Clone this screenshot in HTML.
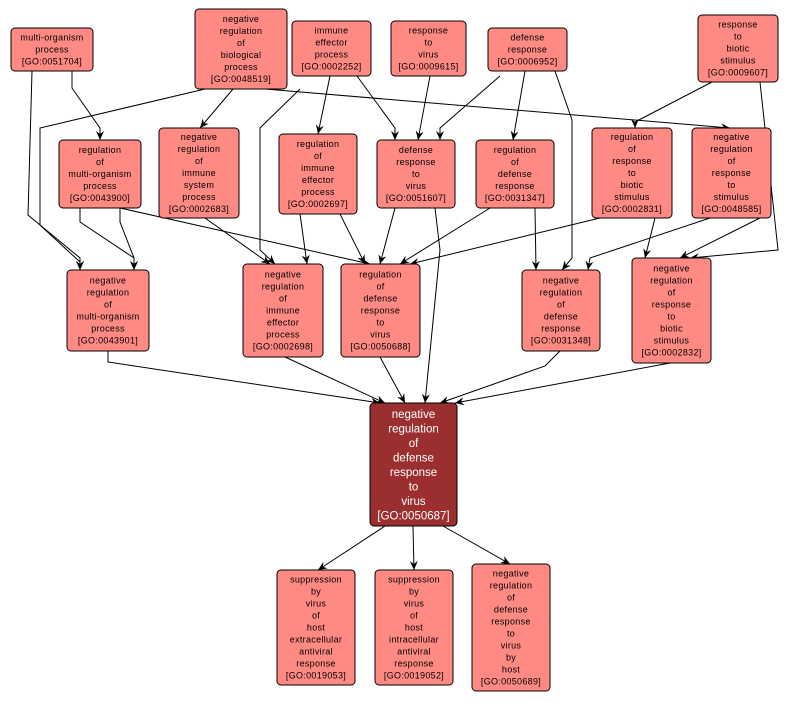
<!DOCTYPE html>
<html><head><meta charset="utf-8"><style>
html,body{margin:0;padding:0;background:#fff;}
svg{display:block}
text{font-family:"Liberation Sans",sans-serif;font-size:9px;text-anchor:middle;fill:#000;letter-spacing:0.3px}
.m text{font-size:11.5px;fill:#fff;letter-spacing:0}
rect{fill:#ff8a84;stroke:#000;stroke-width:1}
.m rect{fill:#9b2f2f}
polyline{fill:none;stroke:#000;stroke-width:1;marker-end:url(#a)}
</style></head><body>
<svg width="803" height="703" viewBox="0 0 803 703">
<defs><marker id="a" markerWidth="10" markerHeight="10" refX="9" refY="5" orient="auto" markerUnits="userSpaceOnUse"><path d="M0,1 L9,5 L0,9 L3,5 Z" fill="#000"/></marker></defs>
<g>
<polyline points="72,71 72,88 100,128 100,140"/>
<polyline points="32,71 28,215 80,258 80,270"/>
<polyline points="205,89 40,128 40,225 80,262 80,270"/>
<polyline points="80,208 80,222 134,258 134,270"/>
<polyline points="120,208 120,222 134,258 134,270"/>
<polyline points="233,89 200,128"/>
<polyline points="265,89 730,128"/>
<polyline points="300,89 260,128 260,250 275,264"/>
<polyline points="330,76 318,134"/>
<polyline points="357,76 395,128 395,140"/>
<polyline points="430,76 418,140"/>
<polyline points="500,76 440,128 440,140"/>
<polyline points="525,71 513,140"/>
<polyline points="555,71 572,120 572,258 562,270"/>
<polyline points="712,82 635,122 635,128"/>
<polyline points="760,82 778,250 690,258"/>
<polyline points="120,208 370,264"/>
<polyline points="205,218 270,264"/>
<polyline points="300,214 307,264"/>
<polyline points="340,214 365,264"/>
<polyline points="395,208 380,264"/>
<polyline points="435,208 440,250 425,403"/>
<polyline points="490,208 400,264"/>
<polyline points="535,208 536,270"/>
<polyline points="600,218 410,264"/>
<polyline points="655,218 645,258"/>
<polyline points="710,218 590,258 588,270"/>
<polyline points="760,218 680,258"/>
<polyline points="108,351 108,362 380,403"/>
<polyline points="285,357 385,403"/>
<polyline points="380,357 405,403"/>
<polyline points="560,351 545,366 440,403"/>
<polyline points="670,363 455,403"/>
<polyline points="385,526 318,570"/>
<polyline points="413,526 414,570"/>
<polyline points="443,526 510,564"/>
</g>

<g><rect x="11" y="28" width="82" height="43" rx="4"/>
<text x="52" y="40.5">multi-organism</text><text x="52" y="52.5">process</text><text x="52" y="64.5">[GO:0051704]</text></g>

<g><rect x="195" y="9" width="92" height="80" rx="4"/>
<text x="241" y="22">negative</text><text x="241" y="34">regulation</text><text x="241" y="46">of</text><text x="241" y="58">biological</text><text x="241" y="70">process</text><text x="241" y="82">[GO:0048519]</text></g>

<g><rect x="292" y="21" width="79" height="55" rx="4"/>
<text x="331.5" y="33.5">immune</text><text x="331.5" y="45.5">effector</text><text x="331.5" y="57.5">process</text><text x="331.5" y="69.5">[GO:0002252]</text></g>

<g><rect x="391" y="21" width="75" height="55" rx="4"/>
<text x="428.5" y="33.5">response</text><text x="428.5" y="45.5">to</text><text x="428.5" y="57.5">virus</text><text x="428.5" y="69.5">[GO:0009615]</text></g>

<g><rect x="488" y="28" width="79" height="43" rx="4"/>
<text x="527.5" y="40.5">defense</text><text x="527.5" y="52.5">response</text><text x="527.5" y="64.5">[GO:0006952]</text></g>

<g><rect x="698" y="15" width="80" height="67" rx="4"/>
<text x="738" y="27.5">response</text><text x="738" y="39.5">to</text><text x="738" y="51.5">biotic</text><text x="738" y="63.5">stimulus</text><text x="738" y="75.5">[GO:0009607]</text></g>

<g><rect x="59" y="140" width="82" height="68" rx="4"/>
<text x="100" y="153">regulation</text><text x="100" y="165">of</text><text x="100" y="177">multi-organism</text><text x="100" y="189">process</text><text x="100" y="201">[GO:0043900]</text></g>

<g><rect x="159" y="128" width="80" height="90" rx="4"/>
<text x="199" y="140">negative</text><text x="199" y="152">regulation</text><text x="199" y="164">of</text><text x="199" y="176">immune</text><text x="199" y="188">system</text><text x="199" y="200">process</text><text x="199" y="212">[GO:0002683]</text></g>

<g><rect x="279" y="134" width="78" height="80" rx="4"/>
<text x="318" y="147">regulation</text><text x="318" y="159">of</text><text x="318" y="171">immune</text><text x="318" y="183">effector</text><text x="318" y="195">process</text><text x="318" y="207">[GO:0002697]</text></g>

<g><rect x="377" y="140" width="78" height="68" rx="4"/>
<text x="416" y="153">defense</text><text x="416" y="165">response</text><text x="416" y="177">to</text><text x="416" y="189">virus</text><text x="416" y="201">[GO:0051607]</text></g>

<g><rect x="476" y="140" width="78" height="68" rx="4"/>
<text x="515" y="153">regulation</text><text x="515" y="165">of</text><text x="515" y="177">defense</text><text x="515" y="189">response</text><text x="515" y="201">[GO:0031347]</text></g>

<g><rect x="592" y="128" width="80" height="90" rx="4"/>
<text x="632" y="140">regulation</text><text x="632" y="152">of</text><text x="632" y="164">response</text><text x="632" y="176">to</text><text x="632" y="188">biotic</text><text x="632" y="200">stimulus</text><text x="632" y="212">[GO:0002831]</text></g>

<g><rect x="692" y="128" width="79" height="90" rx="4"/>
<text x="731.5" y="140">negative</text><text x="731.5" y="152">regulation</text><text x="731.5" y="164">of</text><text x="731.5" y="176">response</text><text x="731.5" y="188">to</text><text x="731.5" y="200">stimulus</text><text x="731.5" y="212">[GO:0048585]</text></g>

<g><rect x="67" y="270" width="82" height="81" rx="4"/>
<text x="108" y="283.5">negative</text><text x="108" y="295.5">regulation</text><text x="108" y="307.5">of</text><text x="108" y="319.5">multi-organism</text><text x="108" y="331.5">process</text><text x="108" y="343.5">[GO:0043901]</text></g>

<g><rect x="243" y="264" width="80" height="93" rx="4"/>
<text x="283" y="277.5">negative</text><text x="283" y="289.5">regulation</text><text x="283" y="301.5">of</text><text x="283" y="313.5">immune</text><text x="283" y="325.5">effector</text><text x="283" y="337.5">process</text><text x="283" y="349.5">[GO:0002698]</text></g>

<g><rect x="341" y="264" width="79" height="93" rx="4"/>
<text x="380.5" y="277.5">regulation</text><text x="380.5" y="289.5">of</text><text x="380.5" y="301.5">defense</text><text x="380.5" y="313.5">response</text><text x="380.5" y="325.5">to</text><text x="380.5" y="337.5">virus</text><text x="380.5" y="349.5">[GO:0050688]</text></g>

<g><rect x="522" y="270" width="78" height="81" rx="4"/>
<text x="561" y="283.5">negative</text><text x="561" y="295.5">regulation</text><text x="561" y="307.5">of</text><text x="561" y="319.5">defense</text><text x="561" y="331.5">response</text><text x="561" y="343.5">[GO:0031348]</text></g>

<g><rect x="632" y="258" width="79" height="105" rx="4"/>
<text x="671.5" y="271.5">negative</text><text x="671.5" y="283.5">regulation</text><text x="671.5" y="295.5">of</text><text x="671.5" y="307.5">response</text><text x="671.5" y="319.5">to</text><text x="671.5" y="331.5">biotic</text><text x="671.5" y="343.5">stimulus</text><text x="671.5" y="355.5">[GO:0002832]</text></g>

<g class="m"><rect x="370" y="403" width="87" height="123" rx="4"/>
<text x="413.5" y="418">negative</text><text x="413.5" y="432.5">regulation</text><text x="413.5" y="447">of</text><text x="413.5" y="461.5">defense</text><text x="413.5" y="476">response</text><text x="413.5" y="490.5">to</text><text x="413.5" y="505">virus</text><text x="413.5" y="519.5">[GO:0050687]</text></g>

<g><rect x="277" y="570" width="78" height="115" rx="4"/>
<text x="316" y="582.5">suppression</text><text x="316" y="594.5">by</text><text x="316" y="606.5">virus</text><text x="316" y="618.5">of</text><text x="316" y="630.5">host</text><text x="316" y="642.5">extracellular</text><text x="316" y="654.5">antiviral</text><text x="316" y="666.5">response</text><text x="316" y="678.5">[GO:0019053]</text></g>

<g><rect x="375" y="570" width="78" height="115" rx="4"/>
<text x="414" y="582.5">suppression</text><text x="414" y="594.5">by</text><text x="414" y="606.5">virus</text><text x="414" y="618.5">of</text><text x="414" y="630.5">host</text><text x="414" y="642.5">intracellular</text><text x="414" y="654.5">antiviral</text><text x="414" y="666.5">response</text><text x="414" y="678.5">[GO:0019052]</text></g>

<g><rect x="472" y="564" width="78" height="127" rx="4"/>
<text x="511" y="576.5">negative</text><text x="511" y="588.5">regulation</text><text x="511" y="600.5">of</text><text x="511" y="612.5">defense</text><text x="511" y="624.5">response</text><text x="511" y="636.5">to</text><text x="511" y="648.5">virus</text><text x="511" y="660.5">by</text><text x="511" y="672.5">host</text><text x="511" y="684.5">[GO:0050689]</text></g>
</svg>
</body></html>
